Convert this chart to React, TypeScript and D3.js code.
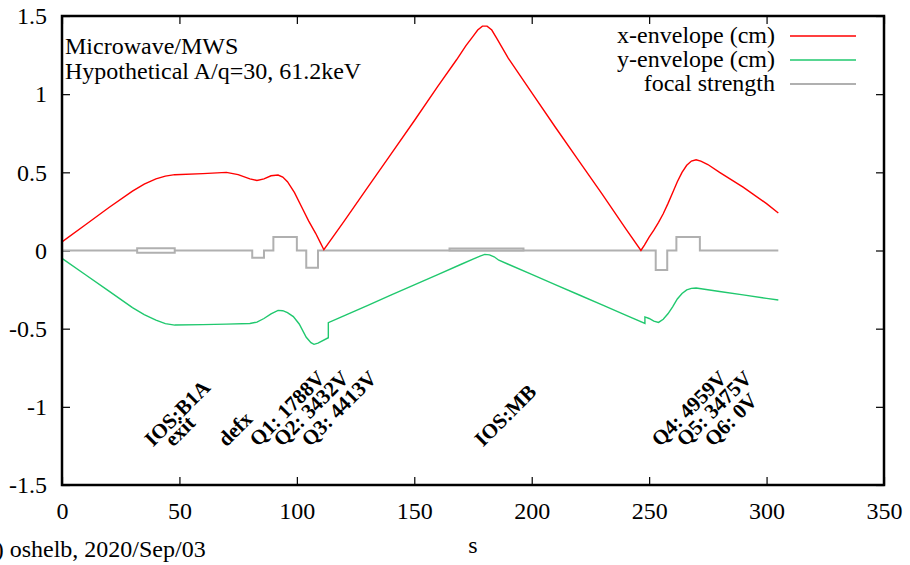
import React, { useRef, useEffect } from 'react'
import * as d3 from 'd3'

// x-envelope (cm)
const xEnvS = [0, 10, 20, 30, 35, 40, 44, 48, 60, 70, 75, 80, 83, 86, 89, 92, 94, 96, 99, 102, 105, 108, 110, 111.5,
  120, 130, 140, 150, 160, 168, 172, 175, 177, 179, 181, 183, 185, 190, 200, 210, 220, 230, 240, 246.5,
  248, 250, 252, 254, 256, 258, 260, 262, 264, 266, 268, 270, 272, 275, 280, 290, 300, 305]
const xEnvV = [0.055, 0.165, 0.275, 0.38, 0.425, 0.458, 0.476, 0.485, 0.492, 0.5, 0.485, 0.458, 0.448, 0.458, 0.478, 0.483, 0.47, 0.44, 0.37, 0.28, 0.19, 0.11, 0.05, 0.005,
  0.185, 0.4, 0.615, 0.83, 1.05, 1.22, 1.31, 1.37, 1.41, 1.435, 1.435, 1.41, 1.36, 1.23, 1.01, 0.79, 0.575, 0.36, 0.14, 0.0,
  0.035, 0.085, 0.13, 0.18, 0.235, 0.3, 0.37, 0.44, 0.5, 0.545, 0.572, 0.58, 0.572, 0.55, 0.5, 0.405, 0.3, 0.24]

// y-envelope (cm)
const yEnvS = [0, 10, 20, 30, 35, 40, 44, 48, 60, 70, 80, 83, 86, 89, 92, 94, 96, 98.5, 101, 104, 106, 107.3, 109, 113.4, 113.4,
  120, 130, 140, 150, 160, 170, 175, 178, 180, 182, 184, 186, 190, 200, 210, 220, 230, 240, 248.2, 248.2,
  250, 252, 254, 256, 258, 260, 262, 264, 266, 268, 270, 280, 290, 300, 305]
const yEnvV = [-0.05, -0.155, -0.26, -0.365, -0.41, -0.445, -0.468, -0.477, -0.474, -0.471, -0.467, -0.458, -0.435, -0.405, -0.383, -0.385, -0.398, -0.423, -0.47, -0.555, -0.59, -0.6, -0.592, -0.558, -0.462,
  -0.418, -0.352, -0.286, -0.22, -0.154, -0.088, -0.055, -0.036, -0.025, -0.028, -0.04, -0.062, -0.088, -0.153, -0.218, -0.283, -0.348, -0.413, -0.466, -0.425,
  -0.435, -0.452, -0.46, -0.44, -0.405, -0.36, -0.31, -0.275, -0.252, -0.242, -0.24, -0.262, -0.284, -0.306, -0.317]

// focal strength (NaN = break in the line)
const focS = [0, 32, 32, 48, 48, 32, 32, NaN, 48, 81, 81, 86, 86, 90, 90, 100, 100, 104, 104, 109, 109,
  165, 165, 196.5, 196.5, 165, 165, NaN, 196.5, 252.8, 252.8, 257.7, 257.7, 261.6, 261.6, 271.6, 271.6, 305]
const focV = [0, 0, 0.015, 0.015, -0.015, -0.015, 0, NaN, 0, 0, -0.046, -0.046, 0, 0, 0.086, 0.086, 0, 0, -0.11, -0.11, 0,
  0, 0.012, 0.012, -0.002, -0.002, 0, NaN, 0, 0, -0.125, -0.125, 0, 0, 0.086, 0.086, 0, 0]

// element labels
const labelS = [38.7, 47.4, 70, 83.5, 93.7, 105.6, 179.3, 254.6, 265.3, 277.2]
const labelText = ['IOS:B1A', 'exit', 'defx', 'Q1: 1788V', 'Q2: 3432V', 'Q3: 4413V', 'IOS:MB', 'Q4: 4959V', 'Q5: 3475V', 'Q6: 0V']

const xTicks = [0, 50, 100, 150, 200, 250, 300, 350]
const yTicks = [-1.5, -1, -0.5, 0, 0.5, 1, 1.5]

const legendNames = ['x-envelope (cm)', 'y-envelope (cm)', 'focal strength']
const legendColors = ['#ff0000', '#20c86e', '#b0b0b0']

const W = 910
const H = 565
const FONT = "'Liberation Serif', 'Times New Roman', serif"
const FS = 24

const App = () => {
  const container = useRef(null)

  useEffect(() => {
    const svg = d3.select(container.current)
    svg.selectAll('*').remove()

    const left = 62, right = 884, top = 16, bottom = 485

    const x = d3.scaleLinear().domain([0, 350]).range([left, right])
    const y = d3.scaleLinear().domain([-1.5, 1.5]).range([bottom, top])

    svg.append('rect').attr('width', W).attr('height', H).attr('fill', '#fff')

    const fmt = (d: number) => String(d)

    const styleAxis = (g: any) => {
      g.select('.domain').remove()
      g.selectAll('line').attr('stroke', '#000').attr('stroke-width', 1.2)
      g.selectAll('text').attr('font-family', FONT).attr('font-size', FS).attr('fill', '#000')
    }

    svg.append('g')
      .attr('transform', `translate(0, ${bottom})`)
      .call(d3.axisBottom(x).tickValues(xTicks).tickSize(-8).tickPadding(17).tickFormat(fmt))
      .call(styleAxis)

    svg.append('g')
      .attr('transform', `translate(0, ${top})`)
      .call(d3.axisTop(x).tickValues(xTicks).tickSize(-8).tickFormat(() => ''))
      .call(styleAxis)

    svg.append('g')
      .attr('transform', `translate(${left}, 0)`)
      .call(d3.axisLeft(y).tickValues(yTicks).tickSize(-8).tickPadding(15).tickFormat(fmt))
      .call(styleAxis)

    svg.append('g')
      .attr('transform', `translate(${right}, 0)`)
      .call(d3.axisRight(y).tickValues(yTicks).tickSize(-8).tickFormat(() => ''))
      .call(styleAxis)

    const line = d3.line<[number, number]>()
      .defined(d => !isNaN(d[0]))
      .x(d => x(d[0]))
      .y(d => y(d[1]))

    const series = [
      { s: focS, v: focV, color: legendColors[2], w: 2 },
      { s: yEnvS, v: yEnvV, color: legendColors[1], w: 1.4 },
      { s: xEnvS, v: xEnvV, color: legendColors[0], w: 1.4 },
    ]

    series.forEach(sr => {
      const pts = sr.s.map((s, i) => [s, sr.v[i]] as [number, number])
      svg.append('path')
        .attr('d', line(pts))
        .attr('fill', 'none')
        .attr('stroke', sr.color)
        .attr('stroke-width', sr.w)
        .attr('stroke-linejoin', 'miter')
    })

    // frame
    svg.append('rect')
      .attr('x', left).attr('y', top)
      .attr('width', right - left).attr('height', bottom - top)
      .attr('fill', 'none').attr('stroke', '#000').attr('stroke-width', 2.5)

    // element labels
    labelS.forEach((s, i) => {
      svg.append('text')
        .attr('transform', `translate(${x(s)}, ${y(-1.26)}) rotate(-45)`)
        .attr('font-family', FONT)
        .attr('font-size', 21)
        .attr('font-weight', 'bold')
        .text(labelText[i])
    })

    // annotations
    svg.append('text').attr('x', 65).attr('y', 54)
      .attr('font-family', FONT).attr('font-size', FS).text('Microwave/MWS')
    svg.append('text').attr('x', 65).attr('y', 79)
      .attr('font-family', FONT).attr('font-size', FS).text('Hypothetical A/q=30, 61.2keV')

    // legend
    legendNames.forEach((name, i) => {
      const ly = 36 + i * 24
      svg.append('text')
        .attr('x', 775).attr('y', ly + 7)
        .attr('text-anchor', 'end')
        .attr('font-family', FONT).attr('font-size', FS)
        .text(name)
      svg.append('line')
        .attr('x1', 790).attr('x2', 856).attr('y1', ly).attr('y2', ly)
        .attr('stroke', legendColors[i]).attr('stroke-width', i === 2 ? 2 : 1.4)
    })

    svg.append('text').attr('x', (left + right) / 2).attr('y', 553)
      .attr('text-anchor', 'middle')
      .attr('font-family', FONT).attr('font-size', FS).text('s')

    svg.append('text').attr('x', -23).attr('y', 557)
      .attr('font-family', FONT).attr('font-size', FS).text('(c) oshelb, 2020/Sep/03')
  }, [])

  return (
    <svg
      ref={container}
      width={W}
      height={H}
      style={{ position: 'absolute', left: 0, top: 0 }}>
    </svg>
  )
}

export default App
